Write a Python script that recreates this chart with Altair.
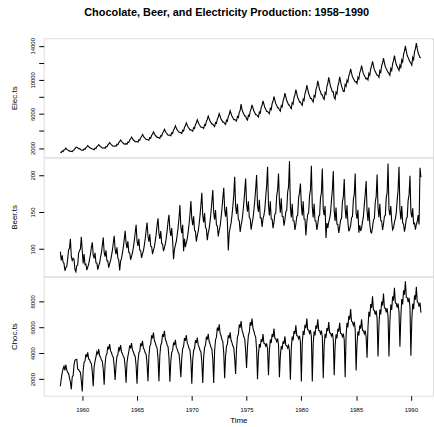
import altair as alt
import pandas as pd

start_year = 1958

elec = [
    1497, 1463, 1648, 1595, 1777, 1824, 1994, 1835, 1787, 1699, 1633, 1645,
    1597, 1577, 1709, 1756, 1936, 2052, 2105, 2016, 1914, 1925, 1824, 1765,
    1751, 1711, 1891, 1851, 2050, 2129, 2289, 2169, 2050, 1990, 1910, 1910,
    1839, 1797, 1986, 1944, 2153, 2236, 2404, 2278, 2153, 2090, 2006, 2006,
    2015, 1969, 2176, 2130, 2359, 2450, 2634, 2496, 2359, 2290, 2198, 2198,
    2253, 2202, 2432, 2381, 2637, 2739, 2944, 2790, 2637, 2560, 2458, 2458,
    2508, 2451, 2708, 2651, 2936, 3050, 3278, 3107, 2936, 2850, 2736, 2736,
    2746, 2683, 2964, 2902, 3214, 3338, 3588, 3401, 3214, 3120, 2995, 2995,
    2974, 2907, 3211, 3143, 3481, 3617, 3887, 3684, 3481, 3380, 3245, 3245,
    3212, 3139, 3468, 3395, 3760, 3906, 4198, 3979, 3760, 3650, 3504, 3504,
    3520, 3440, 3800, 3720, 4120, 4280, 4600, 4360, 4120, 4000, 3840, 3840,
    3784, 3698, 4085, 3999, 4429, 4601, 4945, 4687, 4429, 4300, 4128, 4128,
    4066, 3973, 4389, 4297, 4759, 4943, 5313, 5036, 4759, 4620, 4435, 4435,
    4400, 4300, 4750, 4650, 5150, 5350, 5750, 5450, 5150, 5000, 4800, 4800,
    4620, 4515, 4988, 4883, 5408, 5618, 6038, 5723, 5408, 5250, 5040, 5040,
    4884, 4773, 5273, 5162, 5717, 5939, 6383, 6050, 5717, 5550, 5328, 5328,
    5280, 5160, 5700, 5580, 6180, 6420, 7150, 6540, 6180, 6000, 5760, 5760,
    5412, 5289, 5843, 5720, 6335, 6581, 7073, 6704, 6335, 6150, 5904, 5904,
    5764, 5633, 6223, 6092, 6747, 7009, 7533, 7140, 6747, 6550, 6288, 6288,
    6160, 6020, 6650, 6510, 7210, 7490, 8050, 7630, 7210, 7000, 6720, 6720,
    6468, 6321, 6983, 6836, 7571, 7865, 8453, 8012, 7571, 7350, 7056, 7056,
    6776, 6622, 7315, 7161, 7931, 8239, 8855, 8393, 7931, 7700, 7392, 7392,
    7172, 7009, 7743, 7580, 8395, 8721, 9373, 8884, 8395, 8150, 7824, 7824,
    7568, 7396, 8170, 7998, 8858, 9202, 9890, 9374, 8858, 8600, 8256, 8256,
    7876, 7697, 8503, 8324, 9219, 9577, 10293, 9756, 9219, 8950, 8592, 8592,
    7920, 7740, 8550, 8370, 9270, 9630, 10350, 9810, 9270, 9000, 8640, 8640,
    9458, 9255, 9967, 9763, 10475, 10780, 11289, 10780, 10373, 10170, 9967, 9763,
    9784, 9573, 10310, 10099, 10836, 11151, 11677, 11151, 10730, 10520, 10310, 10099,
    10211, 9992, 10760, 10541, 11309, 11639, 12188, 11639, 11200, 10980, 10760, 10541,
    10528, 10301, 11094, 10867, 11660, 11999, 12565, 11999, 11546, 11320, 11094, 10867,
    10760, 10529, 11339, 11107, 11917, 12264, 12843, 12264, 11801, 11570, 11339, 11107,
    11727, 11475, 12358, 12106, 12988, 13367, 13997, 13367, 12862, 12610, 12358, 12106,
    11988, 11730, 12632, 12374, 13277, 13663, 14308, 13663, 13148, 12890, 12632, 12600,
]

beer = [
    96.3, 84.4, 91.2, 81.9, 80.5, 70.4, 74.8, 75.9, 86.3, 98.7, 100.9, 113.8,
    89.8, 84.4, 87.2, 85.6, 72.0, 69.2, 77.5, 78.1, 94.3, 97.7, 100.2, 116.4,
    97.1, 80.5, 93.0, 78.9, 79.6, 71.3, 75.5, 79.2, 86.1, 92.5, 102.3, 109.0,
    92.0, 87.1, 94.8, 81.2, 81.0, 72.0, 77.4, 80.8, 88.2, 95.0, 104.6, 115.6,
    95.2, 89.6, 98.0, 84.0, 83.9, 74.6, 80.2, 84.1, 90.6, 98.1, 108.0, 117.9,
    99.5, 92.9, 102.1, 88.0, 85.0, 71.0, 83.5, 87.3, 94.4, 102.5, 113.0, 124.6,
    107.8, 101.0, 110.5, 95.4, 94.7, 85.3, 90.3, 94.8, 102.0, 111.0, 122.0, 132.7,
    111.0, 104.0, 113.6, 98.2, 97.5, 88.0, 93.2, 97.4, 105.0, 114.2, 125.6, 135.8,
    117.2, 109.8, 120.0, 103.8, 102.9, 93.0, 98.3, 102.8, 111.0, 120.5, 132.6, 141.6,
    121.4, 113.6, 124.2, 107.5, 106.5, 97.0, 101.8, 106.4, 114.9, 124.8, 137.2, 146.2,
    125.6, 117.5, 128.4, 111.2, 86.0, 99.2, 105.3, 110.0, 118.8, 129.1, 142.0, 159.6,
    129.7, 121.4, 132.6, 97.0, 113.8, 102.5, 108.7, 113.6, 122.7, 133.4, 146.7, 165.0,
    141.0, 132.1, 144.3, 125.0, 123.8, 110.0, 118.3, 123.6, 133.4, 145.1, 159.6, 176.2,
    145.3, 135.9, 148.6, 128.7, 127.4, 112.0, 121.8, 127.3, 137.3, 149.4, 164.2, 179.8,
    149.5, 139.8, 152.8, 132.3, 131.0, 117.0, 125.2, 130.9, 141.2, 153.7, 168.9, 182.9,
    153.6, 143.7, 157.1, 136.0, 98.0, 121.4, 128.7, 134.6, 145.2, 158.0, 173.6, 197.7,
    157.8, 147.5, 161.3, 139.7, 138.3, 123.0, 132.1, 138.3, 149.0, 162.3, 178.3, 195.4,
    160.9, 150.4, 164.5, 142.5, 141.0, 126.0, 134.8, 141.0, 152.0, 165.5, 181.8, 200.0,
    158.4, 150.3, 166.5, 142.1, 142.2, 129.8, 140.7, 145.6, 153.6, 171.0, 186.0, 211.2,
    159.6, 145.3, 164.4, 140.6, 140.4, 128.2, 135.9, 147.0, 148.5, 172.3, 179.8, 202.2,
    163.6, 149.1, 168.6, 144.2, 144.0, 131.4, 139.3, 150.6, 152.3, 176.8, 184.3, 218.8,
    156.5, 142.7, 161.3, 138.0, 137.8, 125.7, 133.4, 144.1, 145.7, 169.1, 176.4, 188.7,
    159.6, 145.3, 164.4, 140.6, 140.4, 118.3, 135.9, 147.0, 148.5, 172.3, 179.8, 212.5,
    156.5, 142.7, 161.3, 138.0, 137.8, 125.7, 133.4, 144.1, 145.7, 169.1, 176.4, 208.9,
    153.6, 145.6, 158.0, 114.7, 135.0, 128.5, 136.3, 141.2, 148.9, 165.8, 180.1, 205.4,
    151.5, 138.0, 156.0, 133.6, 133.3, 121.8, 129.2, 139.4, 141.1, 163.6, 170.8, 194.6,
    154.5, 140.9, 159.2, 136.3, 124.0, 127.0, 131.8, 142.2, 143.9, 166.9, 174.2, 202.2,
    148.5, 141.0, 152.9, 122.0, 132.0, 124.3, 128.6, 136.6, 144.0, 160.4, 174.2, 191.9,
    151.5, 138.0, 156.0, 133.6, 123.0, 121.8, 129.2, 139.4, 141.1, 163.6, 170.8, 200.9,
    156.5, 142.7, 161.3, 138.0, 137.8, 125.7, 133.4, 144.1, 145.7, 169.1, 176.4, 215.6,
    153.6, 145.6, 158.0, 137.2, 126.0, 128.5, 136.3, 141.2, 148.9, 165.8, 180.1, 211.2,
    153.5, 140.0, 158.1, 135.4, 133.5, 123.4, 130.9, 141.2, 142.9, 165.8, 173.1, 199.0,
    150.6, 142.8, 155.1, 134.2, 135.0, 126.0, 133.5, 137.1, 145.8, 133.0, 209.8, 197.0,
]

choc = [
    1451, 2037, 2477, 2785, 2994, 2681, 3098, 2708, 2517, 2445, 2087, 1801,
    1216, 2173, 2286, 3121, 3458, 3511, 3524, 2767, 2744, 2603, 2527, 1846,
    1050, 2650, 3310, 3390, 3920, 3700, 4067, 3560, 3510, 3280, 3200, 2580,
    1464, 2940, 3380, 3720, 4104, 3950, 4320, 3820, 3700, 3480, 3390, 2750,
    1570, 3150, 3820, 3950, 4520, 4300, 4700, 4180, 4050, 3800, 3700, 2980,
    1946, 3100, 3760, 3880, 4460, 4250, 4626, 4100, 3990, 3740, 3650, 2950,
    1717, 3260, 3780, 4120, 4600, 4380, 4780, 4250, 4110, 3870, 3760, 3050,
    1640, 3330, 4020, 4150, 4760, 4550, 4956, 4400, 4260, 4010, 3900, 3160,
    1845, 3760, 4530, 4700, 5380, 5150, 5600, 4980, 4810, 4540, 4400, 3580,
    1845, 3850, 4620, 4800, 5480, 5260, 5720, 5090, 4910, 4640, 4500, 3660,
    1800, 3380, 4070, 4220, 4830, 4620, 5030, 4470, 4320, 4080, 3960, 3210,
    2150, 3620, 4360, 4520, 5170, 4950, 5390, 4800, 4630, 4370, 4240, 3450,
    1640, 3500, 4210, 4380, 5000, 4790, 5210, 4640, 4470, 4230, 4100, 3330,
    1700, 3700, 4450, 4620, 5270, 5060, 5500, 4900, 4720, 4460, 4330, 3520,
    1700, 4200, 5040, 5240, 5980, 5730, 6234, 5550, 5350, 5060, 4900, 3990,
    2076, 3780, 4530, 4710, 5380, 5160, 5610, 5000, 4820, 4550, 4420, 3590,
    2400, 4380, 5240, 5460, 6220, 5970, 6490, 5780, 5570, 5270, 5110, 4150,
    2865, 4500, 5390, 5600, 6390, 6130, 6670, 5940, 5720, 5410, 5250, 4270,
    1996, 3900, 4700, 4440, 5080, 4870, 5470, 4760, 4750, 4550, 4750, 4330,
    2300, 4200, 5060, 4790, 5480, 5250, 5900, 5140, 5120, 4900, 5120, 4670,
    2150, 3780, 4550, 4300, 4920, 4720, 5300, 4610, 4600, 4400, 4600, 4190,
    1946, 4400, 5280, 5000, 5720, 5490, 6160, 5360, 5340, 5120, 5340, 4870,
    1820, 4760, 5720, 5410, 6190, 5940, 6670, 5810, 5790, 5540, 5790, 5280,
    1820, 4720, 5680, 5370, 6140, 5900, 6620, 5770, 5740, 5500, 5740, 5240,
    2076, 4570, 5490, 5190, 5940, 5700, 6400, 5570, 5550, 5320, 5550, 5060,
    2300, 4530, 5450, 5150, 5890, 5660, 6350, 5530, 5510, 5280, 5510, 5020,
    2150, 5280, 6340, 6000, 6860, 6600, 7400, 6450, 6420, 6150, 6420, 5860,
    2660, 4720, 5680, 5370, 6140, 5900, 6620, 5770, 5740, 5500, 5740, 5240,
    3660, 6000, 7200, 6820, 7790, 7490, 8400, 7320, 7290, 6980, 7290, 6650,
    3740, 6150, 7380, 6990, 7990, 7680, 8610, 7500, 7470, 7160, 7470, 6820,
    3740, 6460, 7750, 7340, 8380, 8060, 9040, 7880, 7840, 7520, 7840, 7160,
    4500, 6820, 8180, 7760, 8850, 8510, 9550, 8320, 8280, 7940, 8280, 7560,
    3810, 6520, 7820, 7400, 8460, 8130, 9120, 7950, 7910, 7590, 7910, 7130,
]

x_ticks = [1960, 1965, 1970, 1975, 1980, 1985, 1990]
elec_ticks = [2000, 4000, 6000, 8000, 10000, 12000, 14000]
beer_ticks = [100, 150, 200]
choc_ticks = [2000, 4000, 6000, 8000]

df = pd.DataFrame({
    "t": [start_year + i / 12 for i in range(len(elec))],
    "elec": elec,
    "beer": beer,
    "choc": choc,
})

FONT = "Liberation Sans"
X_DOMAIN = [1956.48, 1992.02]


def panel(field, title, domain, ticks, label_expr, show_x):
    if show_x:
        x_axis = alt.Axis(values=x_ticks, format="d", title="Time", grid=False,
                          domain=False, tickSize=4.5, tickColor="black",
                          labelPadding=6, labelFontSize=6, labelFont=FONT,
                          labelColor="black", labelAngle=0, titleFont=FONT,
                          titleFontSize=8, titleFontWeight="normal",
                          titleColor="black", titlePadding=4)
    else:
        x_axis = None
    y_axis = alt.Axis(values=ticks, format="d", labelExpr=label_expr, title=title,
                      grid=False, domain=False, tickSize=5, tickColor="black",
                      labelPadding=4.6, labelFontSize=6, labelFont=FONT,
                      labelColor="black", labelAngle=270, labelAlign="center",
                      labelBaseline="alphabetic", titleFont=FONT, titleFontSize=8,
                      titleFontWeight="normal", titleColor="black",
                      titleBaseline="alphabetic", titleAngle=270,
                      minExtent=20, maxExtent=20, titlePadding=7.5)
    return alt.Chart(df).mark_line(color="black", strokeWidth=1.1).encode(
        x=alt.X("t:Q", scale=alt.Scale(domain=X_DOMAIN, nice=False, zero=False), axis=x_axis),
        y=alt.Y(f"{field}:Q", scale=alt.Scale(domain=domain, nice=False, zero=False), axis=y_axis),
    ).properties(width=392, height=120)


top = panel("elec", "Elec.ts", [897, 14894], elec_ticks,
            "datum.value % 4000 == 2000 ? datum.label : ''", False)
mid = panel("beer", "Beer.ts", [62.6, 224], beer_ticks, "datum.label", False)
bot = panel("choc", "Choc.ts", [721, 9914], choc_ticks, "datum.label", True)

chart = alt.vconcat(top, mid, bot, spacing=0, bounds="flush").properties(
    title=alt.TitleParams("Chocolate, Beer, and Electricity Production: 1958\u20131990",
                          font=FONT, fontSize=11, fontWeight="bold", color="black",
                          anchor="middle", dx=5, offset=19),
    padding={"left": 10, "top": 5, "right": 0, "bottom": 0},
).configure_view(stroke="black", strokeWidth=1).configure(background="white")

chart.save("out.html", embed_options={"renderer": "svg", "actions": False})
